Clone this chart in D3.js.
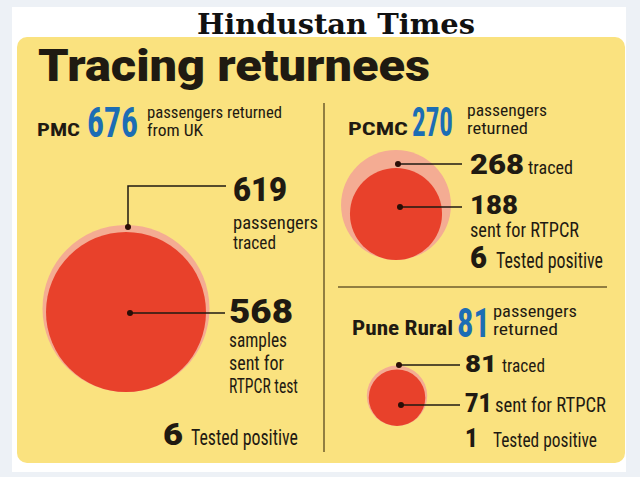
<!DOCTYPE html>
<html>
<head>
<meta charset="utf-8">
<script src="https://cdn.jsdelivr.net/npm/d3@7"></script>
<style>
  body { margin: 0; background: #edf1f6; }
  svg { display: block; }
</style>
</head>
<body>
<script>
var regions = ["PMC", "PCMC", "Pune Rural"];
var returned = [676, 270, 81];
var traced = [619, 268, 81];
var sentForTest = [568, 188, 71];
var testedPositive = [6, 6, 1];

var returnedText = [["passengers returned", "from UK"], ["passengers", "returned"], ["passengers", "returned"]];
var tracedText = [["passengers", "traced"], ["traced"], ["traced"]];
var sentText = [["samples", "sent for", "RTPCR test"], ["sent for  RTPCR"], ["sent for  RTPCR"]];
var positiveText = "Tested positive";

var width = 640, height = 477;

var colors = {
  yellow: "#fae27f",
  pink: "#f4ac93",
  red: "#e8412b",
  blue: "#1c6db4",
  ink: "#1f1a12",
  rule: "#6e5d2c"
};

var numFont = "Roboto, 'Open Sans', sans-serif";
var narrowFont = "'Liberation Sans Narrow', 'Roboto Condensed', 'Open Sans', sans-serif";

// layout of each panel (positions only)
var layout = [
  {
    head: {name: [37, 136, 19, 43], num: [87, 137, 42, 51], subX: 147, subY: [118, 136], subSize: 16, subW: [135, 56]},
    cx: 126, bottom: 392,
    traced: {lineY: 186, lineEnd: 226, num: [233, 201, 33, 54], text: [[233, 229, 18, 85], [233, 249, 18, 43]]},
    sent: {lineY: 313, lineEnd: 225, num: [229, 323, 33, 64], text: [[229, 347, 20, 58], [229, 370, 20, 55], [229, 393, 20, 69]]},
    pos: {num: [163, 445, 31, 20], text: [191, 445, 22, 107]}
  },
  {
    head: {name: [348, 135, 18, 60], num: [412, 136, 41, 41], subX: 467, subY: [116, 134], subSize: 16, subW: [80, 61]},
    cx: 396, bottom: 260,
    traced: {lineY: 164, lineEnd: 462, num: [470, 174, 27, 54], text: [[528, 174, 19, 45]]},
    sent: {lineY: 207, lineEnd: 462, num: [470, 214, 25, 48], text: [[470, 237, 20, 109]]},
    pos: {num: [470, 268, 31, 17], text: [496, 268, 22, 107]}
  },
  {
    head: {name: [352, 335, 20, 101], num: [457, 337, 41, 33], subX: 493, subY: [317, 335], subSize: 16, subW: [84, 65]},
    cx: 397, bottom: 426,
    traced: {lineY: 365, lineEnd: 460, num: [465, 372, 24, 32], text: [[502, 372, 19, 43]]},
    sent: {lineY: 405, lineEnd: 460, num: [465, 412, 26, 27], text: [[495, 412, 20, 111]]},
    pos: {num: [465, 447, 26, 13], text: [493, 447, 21, 104]}
  }
];

var r = d3.scaleSqrt()
    .domain([0, d3.max(sentForTest)])
    .range([0, 80]);

var svg = d3.select("body").append("svg")
    .attr("width", width)
    .attr("height", height);

function txt(g, s, spec, opts) {
  var t = g.append("text")
      .attr("x", spec[0])
      .attr("y", spec[1])
      .attr("font-size", spec[2])
      .attr("font-family", opts.family || narrowFont)
      .attr("font-weight", opts.weight || 400)
      .attr("fill", opts.fill || colors.ink)
      .text(s);
  if (spec[3]) t.attr("textLength", spec[3]).attr("lengthAdjust", "spacingAndGlyphs");
  return t;
}

// card + yellow panel
svg.append("rect")
    .attr("x", 12).attr("y", 7)
    .attr("width", 614).attr("height", 465)
    .attr("fill", "#ffffff");

svg.append("rect")
    .attr("x", 17).attr("y", 37)
    .attr("width", 608).attr("height", 426)
    .attr("rx", 10)
    .attr("fill", colors.yellow);

// masthead
svg.append("text")
    .attr("x", 336).attr("y", 34)
    .attr("text-anchor", "middle")
    .attr("font-family", "'DejaVu Serif', 'Liberation Serif', serif")
    .attr("font-weight", 700)
    .attr("font-size", 28)
    .attr("textLength", 278)
    .attr("lengthAdjust", "spacingAndGlyphs")
    .attr("fill", "#111")
    .text("Hindustan Times");

// title
txt(svg, "Tracing returnees", [38, 81, 44, 392], {family: numFont, weight: 900});

// dividers
svg.append("line")
    .attr("x1", 324).attr("x2", 324)
    .attr("y1", 103).attr("y2", 452)
    .attr("stroke", colors.rule).attr("stroke-width", 1.5);

svg.append("line")
    .attr("x1", 338).attr("x2", 607)
    .attr("y1", 287).attr("y2", 287)
    .attr("stroke", colors.rule).attr("stroke-width", 1.5);

regions.forEach(function(name, i) {
  var L = layout[i];
  var g = svg.append("g").attr("class", "panel");

  // header
  txt(g, name, L.head.name, {weight: 700});
  txt(g, returned[i], L.head.num, {weight: 700, fill: colors.blue});
  returnedText[i].forEach(function(s, j) {
    txt(g, s, [L.head.subX, L.head.subY[j], L.head.subSize, L.head.subW[j]], {});
  });

  // circles, bottom aligned
  var rT = r(traced[i]), rS = r(sentForTest[i]);
  g.append("circle")
      .attr("cx", L.cx).attr("cy", L.bottom - rT)
      .attr("r", rT)
      .attr("fill", colors.pink);
  g.append("circle")
      .attr("cx", L.cx).attr("cy", L.bottom - rS)
      .attr("r", rS)
      .attr("fill", colors.red);

  // leader for traced
  var pinkTop = L.bottom - 2 * rT;
  var dx = L.cx + 2;
  var dy = L.traced.lineY < pinkTop - 10 ? pinkTop + 2 : L.traced.lineY;
  g.append("path")
      .attr("d", "M" + dx + "," + dy + "V" + L.traced.lineY + "H" + L.traced.lineEnd)
      .attr("fill", "none")
      .attr("stroke", colors.ink)
      .attr("stroke-width", 1.5);
  g.append("circle").attr("cx", dx).attr("cy", dy).attr("r", 3).attr("fill", "#2a0d06");

  // leader for sent
  g.append("line")
      .attr("x1", dx + 2).attr("x2", L.sent.lineEnd)
      .attr("y1", L.sent.lineY).attr("y2", L.sent.lineY)
      .attr("stroke", colors.ink)
      .attr("stroke-width", 1.5);
  g.append("circle").attr("cx", dx + 2).attr("cy", L.sent.lineY).attr("r", 3).attr("fill", "#2a0d06");

  // labels
  txt(g, traced[i], L.traced.num, {family: numFont, weight: 900});
  tracedText[i].forEach(function(s, j) { txt(g, s, L.traced.text[j], {}); });

  txt(g, sentForTest[i], L.sent.num, {family: numFont, weight: 900});
  sentText[i].forEach(function(s, j) { txt(g, s, L.sent.text[j], {}); });

  txt(g, testedPositive[i], L.pos.num, {family: numFont, weight: 900});
  txt(g, positiveText, L.pos.text, {});
});
</script>
</body>
</html>
